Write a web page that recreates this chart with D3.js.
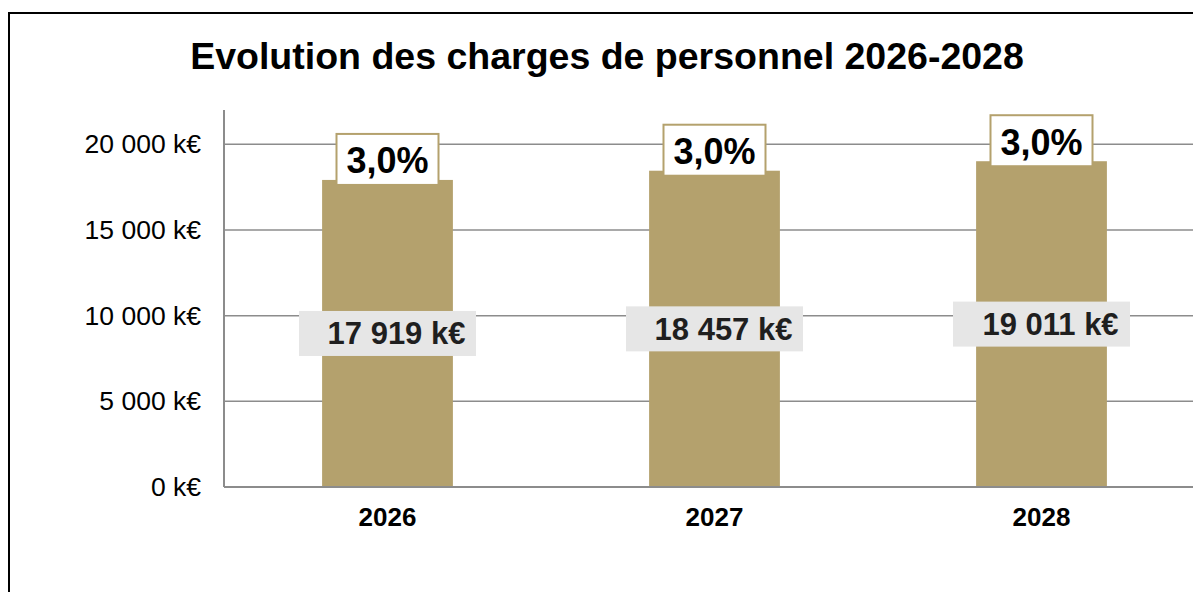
<!DOCTYPE html>
<html lang="fr">
<head>
  <meta charset="UTF-8" />
  <title>Evolution des charges de personnel 2026-2028</title>
  <script src="https://d3js.org/d3.v7.min.js"></script>
  <style>
    body {
      margin: 0;
      background: #ffffff;
      font-family: 'Liberation Sans', Arial, sans-serif;
      overflow: hidden;
    }
    .grid line { stroke: #8c8c8c; stroke-width: 1.5; }
    .axis-line { stroke: #8c8c8c; stroke-width: 2; }
  </style>
</head>
<body>
  <div id="chart"></div>
  <script>
    const years = ["2026", "2027", "2028"];
    const charges = [17919, 18457, 19011];
    const growth = [3.0, 3.0, 3.0];
    const yTicks = [0, 5000, 10000, 15000, 20000];

    const W = 1193, H = 592;
    const plot = { left: 224, right: 1205, top: 110, bottom: 487 };

    const svg = d3.select("#chart").append("svg")
      .attr("width", W)
      .attr("height", H);

    // chart frame (continues past the window edges)
    svg.append("rect")
      .attr("x", 9).attr("y", 13)
      .attr("width", 1400).attr("height", 800)
      .attr("fill", "none")
      .attr("stroke", "#000")
      .attr("stroke-width", 2);

    svg.append("text")
      .attr("x", 607).attr("y", 69)
      .attr("text-anchor", "middle")
      .attr("font-size", 37.5)
      .attr("font-weight", "bold")
      .attr("fill", "#000")
      .text("Evolution des charges de personnel 2026-2028");

    const x = d3.scaleBand()
      .domain(years)
      .range([plot.left, plot.right])
      .paddingInner(0.6)
      .paddingOuter(0.3);

    const y = d3.scaleLinear()
      .domain([0, 22000])
      .range([plot.bottom, plot.top]);

    const fmtK = v => d3.format(",")(v).replace(/,/g, " ") + " k€";
    const fmtPct = v => v.toFixed(1).replace(".", ",") + "%";

    // gridlines
    svg.append("g").attr("class", "grid")
      .selectAll("line")
      .data(yTicks.filter(d => d > 0))
      .join("line")
      .attr("x1", plot.left).attr("x2", W + 20)
      .attr("y1", d => y(d)).attr("y2", d => y(d));

    // y axis labels
    const yAxis = svg.append("g")
      .attr("transform", `translate(${plot.left},0)`)
      .call(d3.axisLeft(y).tickValues(yTicks).tickSize(0).tickPadding(23).tickFormat(fmtK));
    yAxis.select(".domain").remove();
    yAxis.selectAll("text")
      .attr("font-family", "'Liberation Sans', Arial, sans-serif")
      .attr("font-size", 26.5)
      .attr("fill", "#000");

    // bars
    svg.append("g")
      .selectAll("rect")
      .data(charges)
      .join("rect")
      .attr("x", (d, i) => x(years[i]))
      .attr("y", d => y(d))
      .attr("width", x.bandwidth())
      .attr("height", d => y(0) - y(d))
      .attr("fill", "#b4a16d");

    // axis lines
    svg.append("line").attr("class", "axis-line")
      .attr("x1", plot.left).attr("x2", plot.left)
      .attr("y1", plot.top).attr("y2", plot.bottom);
    svg.append("line").attr("class", "axis-line")
      .attr("x1", plot.left).attr("x2", W + 20)
      .attr("y1", plot.bottom).attr("y2", plot.bottom);

    // x axis labels
    const xAxis = svg.append("g")
      .attr("transform", `translate(0,${plot.bottom})`)
      .call(d3.axisBottom(x).tickSize(0).tickPadding(21));
    xAxis.select(".domain").remove();
    xAxis.selectAll("text")
      .attr("font-family", "'Liberation Sans', Arial, sans-serif")
      .attr("font-size", 26)
      .attr("font-weight", "bold")
      .attr("fill", "#000");

    // value labels in the middle of the bars
    const valLab = svg.append("g")
      .selectAll("g")
      .data(charges)
      .join("g")
      .attr("transform", (d, i) =>
        `translate(${x(years[i]) + x.bandwidth() / 2},${(y(d) + y(0)) / 2})`);
    valLab.append("rect")
      .attr("x", -88.5).attr("y", -22.5)
      .attr("width", 177).attr("height", 45)
      .attr("fill", "#e6e6e6");
    valLab.append("text")
      .attr("x", 9).attr("y", 11)
      .attr("text-anchor", "middle")
      .attr("font-size", 31)
      .attr("font-weight", "bold")
      .attr("fill", "#1f1f1f")
      .text(d => fmtK(d));

    // growth labels on top of the bars
    const pctLab = svg.append("g")
      .selectAll("g")
      .data(growth)
      .join("g")
      .attr("transform", (d, i) =>
        `translate(${x(years[i]) + x.bandwidth() / 2},${y(charges[i]) - 20.5})`);
    pctLab.append("rect")
      .attr("x", -51).attr("y", -25.5)
      .attr("width", 102).attr("height", 51)
      .attr("fill", "#fff")
      .attr("stroke", "#b4a16d")
      .attr("stroke-width", 2);
    pctLab.append("text")
      .attr("x", 0).attr("y", 14)
      .attr("text-anchor", "middle")
      .attr("font-size", 36)
      .attr("font-weight", "bold")
      .attr("fill", "#000")
      .text(d => fmtPct(d));
  </script>
</body>
</html>
